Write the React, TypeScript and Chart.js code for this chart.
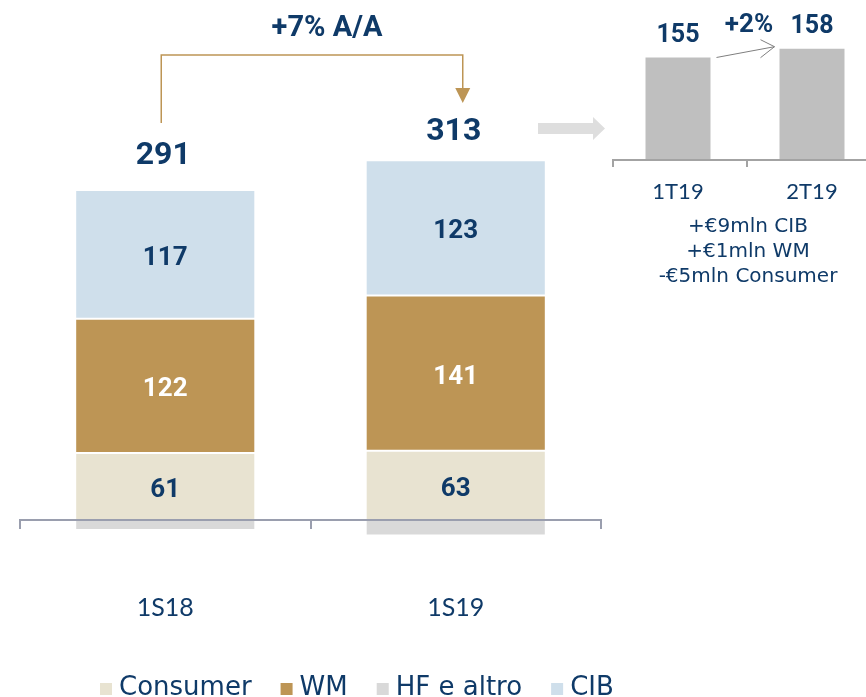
import React, { useEffect, useRef } from "react";
import { Chart, registerables } from "chart.js";

Chart.register(...registerables);

// ---- data ----
const categories = ["1S18", "1S19"];
const consumer = [61, 63];
const wm = [122, 141];
const hfAltro = [-9, -14];
const cib = [117, 123];
const totals = [291, 313];
const growthLabel = "+7% A/A";
const legendLabels = ["Consumer", "WM", "HF e altro", "CIB"];

const quarterCategories = ["1T19", "2T19"];
const quarterValues = [155, 158];
const quarterGrowth = "+2%";
const quarterNotes = ["+€9mln CIB", "+€1mln WM", "-€5mln Consumer"];

// ---- styles ----
const NAVY = "#0f3a68";
const C_CONSUMER = "#e8e3d1";
const C_WM = "#bd9555";
const C_HF = "#d9d9d9";
const C_CIB = "#cfdfeb";
const C_INSET = "#bfbfbf";
const C_AXIS = "#9a9eae";
const C_GOLD = "#bd9555";
const BOLD = "bold 26px Roboto, 'DejaVu Sans', sans-serif";
const REG = "Lato, 'DejaVu Sans', sans-serif";
const WIDE = "'DejaVu Sans', Lato, sans-serif";

const W = 866;
const H = 697;

const mainPlugin = {
  id: "mainDecor",
  afterDatasetsDraw(chart: any) {
    const ctx = chart.ctx;
    const xs = chart.scales.x;
    const ys = chart.scales.y;
    const area = chart.chartArea;
    ctx.save();
    // segment values
    chart.data.datasets.forEach((ds: any, di: number) => {
      if (!ds.valueColor) return;
      const meta = chart.getDatasetMeta(di);
      meta.data.forEach((el: any, i: number) => {
        ctx.font = BOLD;
        ctx.fillStyle = ds.valueColor;
        ctx.textAlign = "center";
        ctx.textBaseline = "middle";
        ctx.fillText(String(ds.data[i]), el.x, (el.y + el.base) / 2 + 4);
      });
    });
    // totals
    const lastMeta = chart.getDatasetMeta(chart.data.datasets.length - 1);
    totals.forEach((t, i) => {
      const x = lastMeta.data[i].x;
      ctx.font = "bold 32px Roboto, 'DejaVu Sans', sans-serif";
      ctx.fillStyle = NAVY;
      ctx.textAlign = "center";
      ctx.textBaseline = "middle";
      ctx.fillText(String(t), x - 2, ys.getPixelForValue(t) - 44);
    });
    // axis
    const y0 = ys.getPixelForValue(0);
    ctx.strokeStyle = C_AXIS;
    ctx.lineWidth = 2;
    ctx.beginPath();
    ctx.moveTo(area.left, y0);
    ctx.lineTo(area.right, y0);
    const n = chart.data.labels.length;
    const cw = (area.right - area.left) / n;
    for (let k = 0; k <= n; k++) {
      const x = Math.round(area.left + k * cw);
      ctx.moveTo(x, y0 - 1);
      ctx.lineTo(x, y0 + 9);
    }
    ctx.stroke();
    // category labels
    ctx.font = "25px " + REG;
    ctx.fillStyle = NAVY;
    ctx.textAlign = "center";
    ctx.textBaseline = "middle";
    chart.data.labels.forEach((lab: string, i: number) => {
      ctx.fillText(lab, xs.getPixelForValue(i), 608);
    });
    // bracket arrow
    const x1 = lastMeta.data[0].x - 4;
    const x2 = lastMeta.data[1].x + 7;
    ctx.strokeStyle = C_GOLD;
    ctx.lineWidth = 1.5;
    ctx.beginPath();
    ctx.moveTo(x1, 123);
    ctx.lineTo(x1, 55);
    ctx.lineTo(x2, 55);
    ctx.lineTo(x2, 90);
    ctx.stroke();
    ctx.fillStyle = C_GOLD;
    ctx.beginPath();
    ctx.moveTo(x2 - 7.5, 88);
    ctx.lineTo(x2 + 7.5, 88);
    ctx.lineTo(x2, 103);
    ctx.closePath();
    ctx.fill();
    ctx.font = "bold 29px Roboto, 'DejaVu Sans', sans-serif";
    ctx.fillStyle = NAVY;
    ctx.textAlign = "center";
    ctx.fillText(growthLabel, 327, 29);
    // grey block arrow
    ctx.fillStyle = "#dedede";
    ctx.beginPath();
    ctx.moveTo(538, 123);
    ctx.lineTo(593, 123);
    ctx.lineTo(593, 117);
    ctx.lineTo(605, 128.5);
    ctx.lineTo(593, 140);
    ctx.lineTo(593, 134);
    ctx.lineTo(538, 134);
    ctx.closePath();
    ctx.fill();
    // legend
    ctx.font = "26px " + WIDE;
    ctx.textAlign = "left";
    ctx.textBaseline = "middle";
    let lx = 100;
    chart.data.datasets.forEach((ds: any) => {
      ctx.fillStyle = ds.backgroundColor;
      ctx.fillRect(lx, 683, 12, 12);
      ctx.fillStyle = NAVY;
      ctx.fillText(ds.label, lx + 19, 688);
      lx += 19 + ctx.measureText(ds.label).width + 29;
    });
    ctx.restore();
  },
};

const insetPlugin = {
  id: "insetDecor",
  afterDatasetsDraw(chart: any) {
    const ctx = chart.ctx;
    const xs = chart.scales.x;
    const area = chart.chartArea;
    const meta = chart.getDatasetMeta(0);
    ctx.save();
    // axis
    const yb = area.bottom;
    ctx.strokeStyle = "#a3a3a3";
    ctx.lineWidth = 2;
    ctx.beginPath();
    ctx.moveTo(area.left + 2, yb);
    ctx.lineTo(area.right, yb);
    const n = chart.data.labels.length;
    const cw = (area.right - area.left) / n;
    for (let k = 0; k <= n; k++) {
      const x = Math.round(area.left + 2 + k * cw);
      ctx.moveTo(x, yb - 1);
      ctx.lineTo(x, yb + 7);
    }
    ctx.stroke();
    // values
    ctx.font = "bold 25px Roboto, 'DejaVu Sans', sans-serif";
    ctx.fillStyle = NAVY;
    ctx.textAlign = "center";
    ctx.textBaseline = "middle";
    meta.data.forEach((el: any, i: number) => {
      ctx.fillText(String(chart.data.datasets[0].data[i]), el.x, el.y - 22);
    });
    const mid = area.left + 2 + cw;
    ctx.font = "bold 26px Roboto, 'DejaVu Sans', sans-serif";
    ctx.fillText(quarterGrowth, mid + 2, 25);
    // thin arrow
    const b1 = meta.data[0];
    const b2 = meta.data[1];
    const sx = b1.x + b1.width / 2 + 6;
    const sy = b1.y;
    const ex = b2.x - b2.width / 2 - 5;
    const ey = b2.y - 2;
    ctx.strokeStyle = "#7f7f7f";
    ctx.lineWidth = 1;
    ctx.beginPath();
    ctx.moveTo(sx, sy);
    ctx.lineTo(ex, ey);
    ctx.moveTo(ex - 14, ey - 7);
    ctx.lineTo(ex, ey);
    ctx.lineTo(ex - 14, ey + 11);
    ctx.stroke();
    // category labels
    ctx.font = "22px " + REG;
    chart.data.labels.forEach((lab: string, i: number) => {
      ctx.fillText(lab, xs.getPixelForValue(i), 192);
    });
    // notes
    ctx.font = "20px " + WIDE;
    quarterNotes.forEach((t, i) => {
      ctx.fillText(t, mid + 1, 227 + i * 25);
    });
    ctx.restore();
  },
};

export default function App() {
  const mainRef = useRef<HTMLCanvasElement>(null);
  const insetRef = useRef<HTMLCanvasElement>(null);

  useEffect(() => {
    const main = new Chart(mainRef.current as HTMLCanvasElement, {
      type: "bar",
      data: {
        labels: categories,
        datasets: [
          { label: legendLabels[0], data: consumer, backgroundColor: C_CONSUMER, valueColor: NAVY } as any,
          { label: legendLabels[1], data: wm, backgroundColor: C_WM, valueColor: "#ffffff" } as any,
          { label: legendLabels[2], data: hfAltro, backgroundColor: C_HF, valueColor: null } as any,
          { label: legendLabels[3], data: cib, backgroundColor: C_CIB, valueColor: NAVY } as any,
        ],
      },
      options: {
        animation: false,
        responsive: false,
        layout: { padding: { left: 20, right: 265, top: 124, bottom: 155 } },
        datasets: {
          bar: {
            categoryPercentage: 1,
            barPercentage: 0.62,
            borderColor: "#ffffff",
            borderWidth: 1,
            borderSkipped: false,
          },
        },
        scales: {
          x: { display: false, stacked: true },
          y: { display: false, stacked: true, min: -20, max: 360 },
        },
        plugins: { legend: { display: false }, tooltip: { enabled: false } },
      },
      plugins: [mainPlugin],
    } as any);

    const inset = new Chart(insetRef.current as HTMLCanvasElement, {
      type: "bar",
      data: {
        labels: quarterCategories,
        datasets: [{ label: "Totale", data: quarterValues, backgroundColor: C_INSET }],
      },
      options: {
        animation: false,
        responsive: false,
        layout: { padding: { left: 611, right: 21, top: 19.4, bottom: 537 } },
        datasets: { bar: { categoryPercentage: 1, barPercentage: 0.485 } },
        scales: {
          x: { display: false },
          y: { display: false, min: 120, max: 168 },
        },
        plugins: { legend: { display: false }, tooltip: { enabled: false } },
      },
      plugins: [insetPlugin],
    } as any);

    return () => {
      main.destroy();
      inset.destroy();
    };
  }, []);

  return (
    <div
      style={{
        position: "fixed",
        left: 0,
        top: 0,
        width: W,
        height: H,
        overflow: "hidden",
        background: "#ffffff",
      }}
    >
      <canvas
        ref={mainRef}
        width={W}
        height={H}
        style={{ position: "absolute", left: 0, top: 0, width: W, height: H }}
      />
      <canvas
        ref={insetRef}
        width={900}
        height={H}
        style={{ position: "absolute", left: 0, top: 0, width: 900, height: H }}
      />
    </div>
  );
}
